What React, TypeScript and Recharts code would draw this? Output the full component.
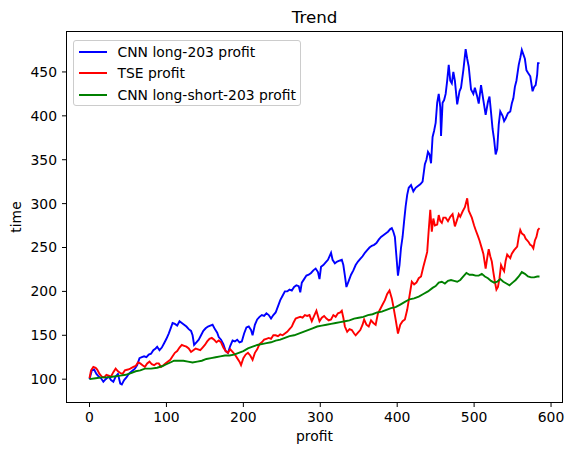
import React from 'react';
import { LineChart, Line, XAxis, YAxis } from 'recharts';

const seriesNames = ['CNN long-203 profit', 'TSE profit', 'CNN long-short-203 profit'];
const seriesColors = ['#0000ff', '#ff0000', '#008000'];
const xTicks = [0, 100, 200, 300, 400, 500, 600];
const yTicks = [100, 150, 200, 250, 300, 350, 400, 450];

// CNN long-203 profit: [time index, value]
const cnnLong: number[][] = [
  [0,100],[3,110],[6,111],[9,106],[12,103],[15,101],[18,97],[21,100],[25,103],[28,99],[31,97],[34,103],[37,106],[40,95],[42,94],[45,99],[48,102],[51,106],[55,109],[59,112],[62,116],[65,124],[68,125],[71,126],[74,125],[77,128],[80,129],[83,133],[86,135],[88,137],[91,133],[94,136],[97,141],[100,146],[103,152],[106,159],[108,164],[111,163],[114,161],[117,166],[120,164],[123,162],[126,160],[129,157],[132,155],[134,150],[136,139],[139,142],[142,145],[145,150],[148,155],[151,158],[154,160],[157,161],[160,162],[163,157],[166,153],[168,148],[171,145],[174,140],[177,132],[180,130],[183,138],[186,144],[189,143],[192,145],[195,142],[198,143],[201,152],[204,159],[207,160],[210,156],[212,150],[215,162],[218,168],[221,171],[224,173],[227,172],[230,175],[233,173],[236,169],[239,173],[242,176],[245,183],[248,190],[251,195],[254,200],[257,200],[260,202],[263,201],[266,205],[269,207],[272,206],[274,199],[276,210],[279,214],[282,218],[285,219],[288,221],[291,224],[294,226],[297,222],[299,214],[301,228],[304,230],[307,233],[310,236],[312,240],[314,244],[316,236],[319,232],[322,234],[325,235],[328,236],[330,230],[332,218],[334,205],[337,212],[340,219],[343,224],[346,230],[349,234],[352,237],[355,240],[358,244],[361,247],[364,250],[367,252],[370,253],[373,255],[376,259],[379,262],[382,264],[385,266],[388,268],[391,271],[393,272],[395,268],[397,262],[399,240],[401,218],[403,230],[405,250],[407,262],[409,280],[411,297],[413,310],[415,318],[418,321],[421,314],[424,318],[427,320],[430,322],[433,325],[436,345],[438,350],[440,359],[442,356],[444,346],[446,376],[448,383],[450,392],[452,415],[454,425],[456,410],[457,377],[459,415],[461,418],[463,425],[465,440],[467,458],[469,440],[471,437],[473,450],[475,440],[478,413],[481,428],[483,432],[486,452],[489,476],[491,465],[493,456],[496,430],[499,425],[501,432],[504,422],[506,414],[509,435],[512,418],[515,401],[518,416],[520,422],[522,404],[524,385],[526,373],[528,356],[530,362],[532,390],[534,405],[537,400],[539,394],[541,397],[544,403],[547,405],[549,414],[551,420],[553,433],[555,440],[558,458],[560,466],[562,475],[564,470],[566,465],[568,452],[570,449],[573,445],[576,428],[578,433],[580,435],[582,447],[583,460],[585,460]
];

// TSE profit
const tse: number[][] = [
  [0,101],[2,110],[5,114],[8,113],[10,111],[13,106],[16,103],[19,102],[22,105],[25,104],[28,103],[31,108],[34,112],[37,109],[40,107],[43,106],[46,110],[50,111],[53,112],[57,114],[60,115],[63,119],[66,118],[69,116],[72,114],[75,118],[78,120],[81,117],[84,116],[87,118],[90,118],[93,114],[96,116],[99,118],[102,120],[105,122],[108,126],[111,130],[114,132],[117,136],[120,139],[123,138],[126,137],[129,135],[132,131],[135,133],[138,135],[141,134],[144,133],[147,136],[150,139],[153,143],[156,146],[159,147],[162,145],[165,142],[168,144],[171,142],[174,136],[177,132],[180,130],[183,134],[186,131],[189,128],[192,124],[195,120],[197,116],[200,124],[203,128],[206,130],[209,127],[212,122],[215,130],[218,134],[221,140],[224,142],[227,145],[230,146],[233,147],[236,146],[239,150],[242,150],[245,149],[248,151],[251,150],[254,152],[257,154],[260,157],[263,160],[265,164],[268,169],[271,170],[274,171],[277,170],[280,173],[283,172],[286,173],[289,166],[292,172],[295,178],[297,172],[299,166],[302,170],[305,172],[308,169],[311,167],[314,168],[317,173],[320,171],[323,175],[326,176],[328,178],[330,170],[332,160],[335,154],[338,157],[341,156],[344,152],[346,150],[349,153],[352,156],[355,162],[357,168],[360,162],[363,160],[366,167],[369,164],[372,162],[375,175],[378,180],[381,185],[384,190],[387,197],[390,201],[393,192],[395,183],[398,168],[401,152],[404,162],[407,166],[410,168],[413,179],[416,195],[419,211],[422,208],[425,210],[428,215],[431,217],[434,228],[437,238],[439,245],[441,270],[443,293],[445,268],[447,283],[449,275],[452,276],[454,287],[456,280],[458,278],[460,284],[463,284],[466,280],[469,285],[472,288],[475,274],[478,282],[480,288],[482,285],[485,291],[488,296],[491,306],[493,292],[495,288],[497,284],[500,275],[502,270],[505,263],[507,258],[510,249],[512,243],[515,226],[517,238],[519,248],[521,240],[523,234],[525,222],[527,211],[529,202],[531,205],[533,215],[535,230],[537,226],[539,223],[541,235],[543,242],[545,240],[547,238],[549,243],[552,247],[554,249],[556,251],[558,262],[560,270],[562,266],[565,264],[567,260],[569,258],[571,256],[573,253],[575,252],[577,249],[579,258],[581,262],[583,270],[585,272]
];

// CNN long-short-203 profit
const cnnLongShort: number[][] = [
  [0,100],[8,101],[16,102],[24,102],[32,103],[40,104],[47,105],[54,107],[60,109],[66,110],[72,112],[80,112],[88,113],[95,115],[100,117],[105,119],[110,121],[116,121],[122,121],[128,120],[134,119],[140,120],[146,121],[152,123],[158,124],[164,125],[170,126],[176,127],[182,127],[188,128],[194,130],[200,132],[206,135],[212,137],[218,139],[224,140],[230,141],[236,142],[242,144],[248,145],[254,147],[260,149],[266,150],[272,152],[278,154],[284,156],[290,158],[296,160],[302,161],[308,162],[314,163],[320,164],[326,165],[332,166],[338,167],[344,169],[350,170],[356,171],[362,173],[368,174],[374,176],[380,177],[386,179],[392,181],[398,182],[404,185],[410,188],[416,191],[422,192],[428,194],[434,197],[440,200],[446,204],[450,206],[454,210],[458,211],[462,209],[466,212],[470,213],[474,212],[478,211],[482,213],[486,217],[490,221],[494,219],[498,219],[502,218],[506,218],[510,220],[514,217],[518,215],[522,212],[526,210],[530,211],[534,214],[538,211],[542,209],[546,207],[550,210],[554,213],[558,217],[562,222],[566,220],[570,217],[574,216],[578,216],[582,217],[585,217]
];

const toRows = (arr: number[][]) => arr.map(([x, y]) => ({ x, y }));
const allSeries = [cnnLong, tse, cnnLongShort].map(toRows);

const FONT = '"DejaVu Sans", sans-serif';
const tickStyle = { fill: '#000', fontSize: 13.9, fontFamily: FONT };

export default function App() {
  return (
    <div style={{ position: 'absolute', left: 0, top: 0, width: 573, height: 455, background: '#fff', fontFamily: FONT }}>
      <LineChart width={573} height={455} margin={{ top: 32, right: 11, bottom: 0, left: 0 }}>
        <XAxis
          type="number"
          dataKey="x"
          domain={[-29.25, 614.25]}
          ticks={xTicks}
          allowDataOverflow
          height={53}
          axisLine={false}
          tickLine={{ stroke: '#000', strokeWidth: 1 }}
          tickSize={5}
          tickMargin={5}
          tick={tickStyle}
          interval={0}
        />
        <YAxis
          type="number"
          domain={[74, 495.5]}
          ticks={yTicks}
          allowDataOverflow
          width={67}
          axisLine={false}
          tickLine={{ stroke: '#000', strokeWidth: 1 }}
          tickSize={5}
          tickMargin={5}
          tick={tickStyle}
          interval={0}
        />
        {allSeries.map((d, i) => (
          <Line
            key={seriesNames[i]}
            data={d}
            dataKey="y"
            name={seriesNames[i]}
            type="linear"
            stroke={seriesColors[i]}
            strokeWidth={1.9}
            dot={false}
            activeDot={false}
            isAnimationActive={false}
          />
        ))}
      </LineChart>
      {/* axes frame */}
      <div style={{ position: 'absolute', left: 66, top: 31, width: 497, height: 372, border: '1px solid #000', boxSizing: 'border-box', pointerEvents: 'none' }} />
      {/* title */}
      <div style={{ position: 'absolute', left: 314.5, top: 8, transform: 'translateX(-50%)', fontSize: 16.7, lineHeight: '19px', color: '#000', whiteSpace: 'nowrap' }}>Trend</div>
      {/* x label */}
      <div style={{ position: 'absolute', left: 314.5, top: 428, transform: 'translateX(-50%)', fontSize: 13.9, lineHeight: '16px', color: '#000', whiteSpace: 'nowrap' }}>profit</div>
      {/* y label */}
      <div style={{ position: 'absolute', left: 15.5, top: 217, transform: 'translate(-50%, -50%) rotate(-90deg)', fontSize: 13.9, lineHeight: '16px', color: '#000', whiteSpace: 'nowrap' }}>time</div>
      {/* legend */}
      <div style={{ position: 'absolute', left: 73, top: 40, width: 228, height: 66, border: '1px solid #cccccc', borderRadius: 3, background: 'rgba(255,255,255,0.8)', boxSizing: 'border-box' }}>
        {seriesNames.map((n, i) => (
          <div key={n} style={{ position: 'absolute', left: 0, top: 2 + i * 21.3, height: 18, width: '100%' }}>
            <div style={{ position: 'absolute', left: 5, top: 8, width: 28, height: 2, background: seriesColors[i] }} />
            <div style={{ position: 'absolute', left: 43.5, top: 0, fontSize: 13.9, lineHeight: '18px', color: '#000', whiteSpace: 'nowrap' }}>{n}</div>
          </div>
        ))}
      </div>
    </div>
  );
}
